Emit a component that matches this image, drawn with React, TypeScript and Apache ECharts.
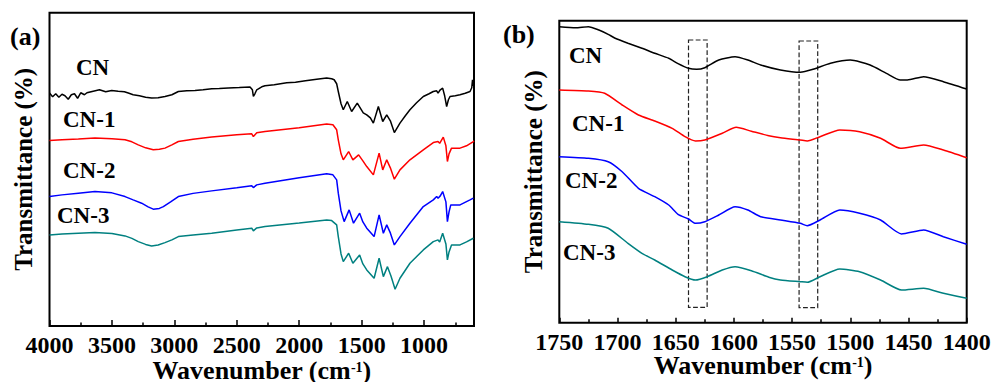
import React, { useEffect, useRef } from "react";
import * as echarts from "echarts";

// ---------- Panel (a): full range spectra [wavenumber, transmittance (a.u.)] ----------
const CN_A: [number, number][] = [
  [4000, 232.7], [3975, 229], [3950, 232], [3925, 228.5], [3900, 231.5], [3876, 230], [3850, 226.5],
  [3825, 231], [3800, 232], [3775, 227.5], [3750, 233], [3720, 231], [3700, 233], [3650, 234.5],
  [3600, 236], [3550, 234], [3502, 235.3], [3450, 234.5], [3400, 234], [3369, 232.7], [3330, 231],
  [3280, 230], [3230, 228.5], [3182, 227.7], [3130, 228], [3075, 229.3], [3020, 231], [2968, 234.3],
  [2900, 235], [2835, 235.3], [2770, 236], [2700, 237], [2640, 237.3], [2568, 237.7], [2480, 238.2],
  [2394, 238.7], [2375, 236], [2367, 229.3], [2355, 232], [2340, 236], [2300, 239], [2274, 240],
  [2200, 241], [2100, 243], [2030, 243.5], [1950, 245], [1860, 246.5], [1780, 247.7], [1740, 247],
  [1720, 246], [1700, 242], [1687, 234.3], [1665, 222], [1647, 216], [1615, 224.3], [1580, 214.3],
  [1535, 222.7], [1487, 213], [1459, 211], [1430, 208], [1406, 202.7], [1366, 219.3], [1331, 204.3],
  [1299, 211], [1270, 205], [1238, 193.3], [1193, 202.7], [1150, 210], [1113, 216], [1060, 223],
  [1006, 229.3], [960, 232], [926, 234.3], [899, 235], [888, 232.7], [870, 236], [851, 237.7],
  [835, 230], [819, 219.3], [805, 226], [792, 229.3], [750, 230], [712, 231], [670, 232.5],
  [632, 234.3], [618, 238], [612, 246], [605, 240], [600, 243],
];
const CN1_A: [number, number][] = [
  [4000, 185.3], [3900, 186], [3769, 186.7], [3636, 187.7], [3500, 187], [3395, 186], [3340, 184],
  [3289, 181], [3230, 178], [3169, 176], [3120, 176.5], [3075, 177.7], [3020, 181], [2968, 184.3],
  [2850, 186.5], [2701, 188.7], [2500, 191], [2380, 192], [2367, 189.3], [2340, 193], [2274, 194.3],
  [2000, 198], [1780, 201.7], [1730, 201], [1700, 196], [1687, 186], [1665, 172], [1647, 166],
  [1604, 174.3], [1570, 166], [1524, 171], [1490, 165], [1459, 159.3], [1406, 151], [1360, 172.7],
  [1331, 156], [1299, 166], [1270, 158], [1238, 146.7], [1193, 156], [1113, 166], [1006, 176],
  [926, 183.3], [888, 184.3], [875, 182.5], [846, 188.7], [825, 180], [813, 164.3], [800, 172],
  [780, 177.7], [712, 177.7], [660, 180], [605, 184.3], [600, 185],
];
const CN2_A: [number, number][] = [
  [4000, 129.3], [3900, 131], [3769, 132.7], [3636, 134.3], [3500, 133], [3395, 129.3], [3330, 126],
  [3262, 122.7], [3210, 119], [3169, 116.7], [3120, 117.5], [3088, 119.3], [3030, 124], [2968, 129.3],
  [2850, 132.5], [2701, 135], [2500, 138], [2380, 140], [2367, 138.3], [2340, 141], [2274, 142.7],
  [2000, 148], [1780, 152], [1730, 151], [1700, 146], [1687, 132.7], [1665, 115], [1640, 104.3],
  [1600, 116], [1565, 102.7], [1516, 112.7], [1490, 104], [1459, 97.7], [1400, 89.3], [1360, 111],
  [1326, 92.7], [1299, 101], [1270, 93], [1238, 81], [1193, 89.3], [1113, 102.7], [1006, 119.3],
  [926, 126], [899, 129.3], [888, 127.7], [870, 130], [851, 134.3], [825, 124], [813, 104.3],
  [800, 114], [786, 121], [712, 121], [632, 126], [605, 127.7], [600, 128],
];
const CN3_A: [number, number][] = [
  [4000, 91], [3900, 92], [3769, 92.7], [3636, 93.3], [3500, 92.5], [3395, 90], [3340, 87.5],
  [3289, 84.3], [3230, 81.5], [3182, 80], [3130, 81], [3075, 83.3], [3020, 86], [2968, 89.3],
  [2850, 91], [2701, 92.7], [2500, 96], [2380, 97.7], [2367, 95], [2340, 98], [2274, 99.3],
  [2000, 103], [1780, 106], [1740, 105.3], [1700, 101], [1687, 89.3], [1665, 72], [1647, 64.3],
  [1604, 72.7], [1570, 62.7], [1516, 71], [1490, 62], [1459, 56], [1400, 47.7], [1360, 67.7],
  [1326, 49.3], [1293, 59.3], [1265, 50], [1232, 36.7], [1193, 47.7], [1113, 62.7], [1006, 76],
  [926, 84.3], [888, 86], [875, 84], [851, 92.7], [825, 82], [813, 66], [800, 74], [780, 81],
  [712, 81], [660, 84], [605, 87.7], [600, 88],
];

// ---------- Panel (b): 1750–1400 cm-1 region ----------
const CN_B: [number, number][] = [
  [1750, 296], [1736, 295], [1725, 296], [1716, 292.7], [1708, 288.4], [1702, 284.4], [1691, 279.4],
  [1679, 274.4], [1668, 269.4], [1656, 264.4], [1648, 259], [1639, 254.4], [1632, 253.4], [1625, 255],
  [1613, 262.7], [1599, 266], [1588, 262.7], [1577, 257.7], [1560, 252.7], [1543, 250.4], [1532, 253.4],
  [1517, 259.4], [1500, 262.7], [1483, 257.7], [1469, 249.4], [1457, 242.7], [1451, 242.7], [1437, 246],
  [1420, 241], [1400, 233.7],
];
const CN1_B: [number, number][] = [
  [1750, 232.7], [1725, 231.7], [1711, 229.4], [1696, 217.7], [1682, 207.7], [1668, 201.7], [1653, 194.4],
  [1642, 186], [1633, 181.7], [1625, 182.7], [1610, 189.4], [1598, 195.4], [1585, 191.5], [1570, 187],
  [1560, 185], [1543, 182.7], [1537, 181.7], [1526, 186], [1509, 192.7], [1492, 191], [1474, 184.4],
  [1457, 174.4], [1437, 177.7], [1420, 172.7], [1400, 165],
];
const CN2_B: [number, number][] = [
  [1750, 166], [1725, 164.4], [1708, 161], [1696, 151], [1682, 134.4], [1668, 126], [1656, 117.7],
  [1648, 108.4], [1639, 103.7], [1633, 99.4], [1625, 101], [1613, 107.7], [1599, 116], [1588, 112.7],
  [1577, 106], [1560, 102.7], [1543, 99.4], [1537, 97], [1526, 102.7], [1509, 112.7], [1492, 109.4],
  [1474, 102.7], [1456, 88.7], [1437, 92.7], [1420, 86], [1400, 78.4],
];
const CN3_B: [number, number][] = [
  [1750, 101], [1725, 98.4], [1708, 94.4], [1691, 79.4], [1679, 69.4], [1668, 62.7], [1653, 52.7],
  [1642, 46], [1633, 42.7], [1623, 46], [1610, 52.7], [1599, 56], [1585, 52], [1570, 45.5], [1560, 42.7],
  [1543, 41], [1537, 40.4], [1526, 46], [1509, 53.7], [1492, 51], [1474, 42.7], [1456, 32.7],
  [1437, 34.4], [1420, 29.4], [1400, 24.4],
];

// dashed boxes in (b): [wavenumber from, wavenumber to, y low, y high]
const BOX1 = [1639, 1623, 15.4, 282.7];
const BOX2 = [1544, 1528, 15, 281.7];

const A_MAJOR = [4000, 3500, 3000, 2500, 2000, 1500, 1000];
const A_MINOR = [3750, 3250, 2750, 2250, 1750, 1250, 750];
const SERIES_NAMES = ["CN", "CN-1", "CN-2", "CN-3"];
const COLORS = ["#000000", "#ff0000", "#0000ff", "#008080"];

const FONT = "Liberation Serif, Times New Roman, serif";

export default function App() {
  const ref = useRef<HTMLDivElement>(null);
  useEffect(() => {
    if (!ref.current) return;
    const chart = echarts.init(ref.current, null, { renderer: "svg" });

    const tickLabel = {
      fontFamily: FONT, fontWeight: "bold" as const, fontSize: 24, lineHeight: 18, color: "#000", margin: 10,
      formatter: (v: number) => String(v),
    };
    const nameStyle = (size: number, lh?: number) => ({
      fontFamily: FONT,
      fontWeight: "bold" as const,
      fontSize: size,
      ...(lh ? { lineHeight: lh } : {}),
      color: "#000",
      rich: {
        s: { fontFamily: FONT, fontWeight: "bold" as const, fontSize: 14, lineHeight: 12, color: "#000", verticalAlign: "top" as const },
      },
    });
    const tickLine = { color: "#000", width: 1.5 };

    const aData = [CN_A, CN1_A, CN2_A, CN3_A];
    const bData = [CN_B, CN1_B, CN2_B, CN3_B];

    const txt = (text: string, x: number, y: number, size = 23) => ({
      type: "text",
      x,
      y,
      style: {
        text,
        font: `bold ${size}px ${FONT}`,
        fill: "#000",
        textAlign: "left",
        textVerticalAlign: "middle",
      },
    });

    const gridBase = {
      show: true, borderColor: "#000", borderWidth: 2, backgroundColor: "transparent",
      containLabel: false, outerBoundsMode: "none",
    };

    chart.setOption({
      animation: false,
      backgroundColor: "#fff",
      grid: [
        { ...gridBase, left: 49.5, top: 12.7, width: 424.5, height: 313.3 },
        { ...gridBase, left: 559.3, top: 20.7, width: 407.4, height: 302 },
      ],
      xAxis: [
        {
          gridIndex: 0, type: "value", min: 600, max: 4000, inverse: true, position: "bottom",
          axisLine: { show: false }, splitLine: { show: false },
          axisTick: { show: true, inside: true, length: 6, lineStyle: tickLine, customValues: A_MAJOR },
          axisLabel: { ...tickLabel, customValues: A_MAJOR },
          name: "Wavenumber (cm{s|-1})", nameLocation: "middle", nameGap: 34, nameMoveOverlap: false,
          nameTextStyle: nameStyle(26, 20),
        },
        {
          gridIndex: 0, type: "value", min: 600, max: 4000, inverse: true, position: "bottom",
          axisLine: { show: false }, splitLine: { show: false }, axisLabel: { show: false },
          axisTick: { show: true, inside: true, length: 3.5, lineStyle: tickLine, customValues: A_MINOR },
        },
        {
          gridIndex: 1, type: "value", min: 1400, max: 1750, interval: 50, inverse: true, position: "bottom",
          axisLine: { show: false }, splitLine: { show: false },
          axisTick: { show: true, inside: true, length: 5, lineStyle: tickLine },
          minorTick: { show: true, splitNumber: 2, length: 3.5, lineStyle: tickLine },
          minorSplitLine: { show: false },
          axisLabel: tickLabel,
          name: "Wavenumber (cm{s|-1})", nameLocation: "middle", nameGap: 33, nameMoveOverlap: false,
          nameTextStyle: nameStyle(26, 20),
        },
      ],
      yAxis: [
        {
          gridIndex: 0, type: "value", min: 0, max: 313,
          axisLine: { show: false }, axisTick: { show: false }, axisLabel: { show: false }, splitLine: { show: false },
          name: "Transmittance (%)", nameLocation: "middle", nameGap: 14, nameMoveOverlap: false,
          nameTextStyle: nameStyle(25),
        },
        {
          gridIndex: 1, type: "value", min: 0, max: 302,
          axisLine: { show: false }, axisTick: { show: false }, axisLabel: { show: false }, splitLine: { show: false },
          name: "Transmittance (%)", nameLocation: "middle", nameGap: 13, nameMoveOverlap: false,
          nameTextStyle: nameStyle(25),
        },
      ],
      series: [
        ...aData.map((d, i) => ({
          name: SERIES_NAMES[i] + " (a)",
          type: "line",
          xAxisIndex: 0,
          yAxisIndex: 0,
          data: d,
          showSymbol: false,
          lineStyle: { color: COLORS[i], width: 1.5 },
          itemStyle: { color: COLORS[i] },
        })),
        ...bData.map((d, i) => ({
          name: SERIES_NAMES[i] + " (b)",
          type: "line",
          xAxisIndex: 2,
          yAxisIndex: 1,
          data: d,
          showSymbol: false,
          smooth: 0.2,
          lineStyle: { color: COLORS[i], width: 1.5 },
          itemStyle: { color: COLORS[i] },
          markArea:
            i === 0
              ? {
                  silent: true,
                  itemStyle: { color: "transparent", borderColor: "#222", borderWidth: 1.2, borderType: "dashed" },
                  data: [
                    [{ coord: [BOX1[0], BOX1[3]] }, { coord: [BOX1[1], BOX1[2]] }],
                    [{ coord: [BOX2[0], BOX2[3]] }, { coord: [BOX2[1], BOX2[2]] }],
                  ],
                }
              : undefined,
        })),
      ],
      graphic: [
        txt("(a)", 10, 36, 26),
        txt("CN", 76, 67.5),
        txt("CN-1", 63, 119),
        txt("CN-2", 63, 170.5),
        txt("CN-3", 57, 215),
        txt("(b)", 503, 34, 26),
        txt("CN", 569, 55.5),
        txt("CN-1", 572, 123.3),
        txt("CN-2", 565, 180),
        txt("CN-3", 563, 252.5),
      ],
    });
    return () => chart.dispose();
  }, []);
  return <div ref={ref} style={{ position: "fixed", left: 0, top: 0, width: 992, height: 382, background: "#fff" }} />;
}
